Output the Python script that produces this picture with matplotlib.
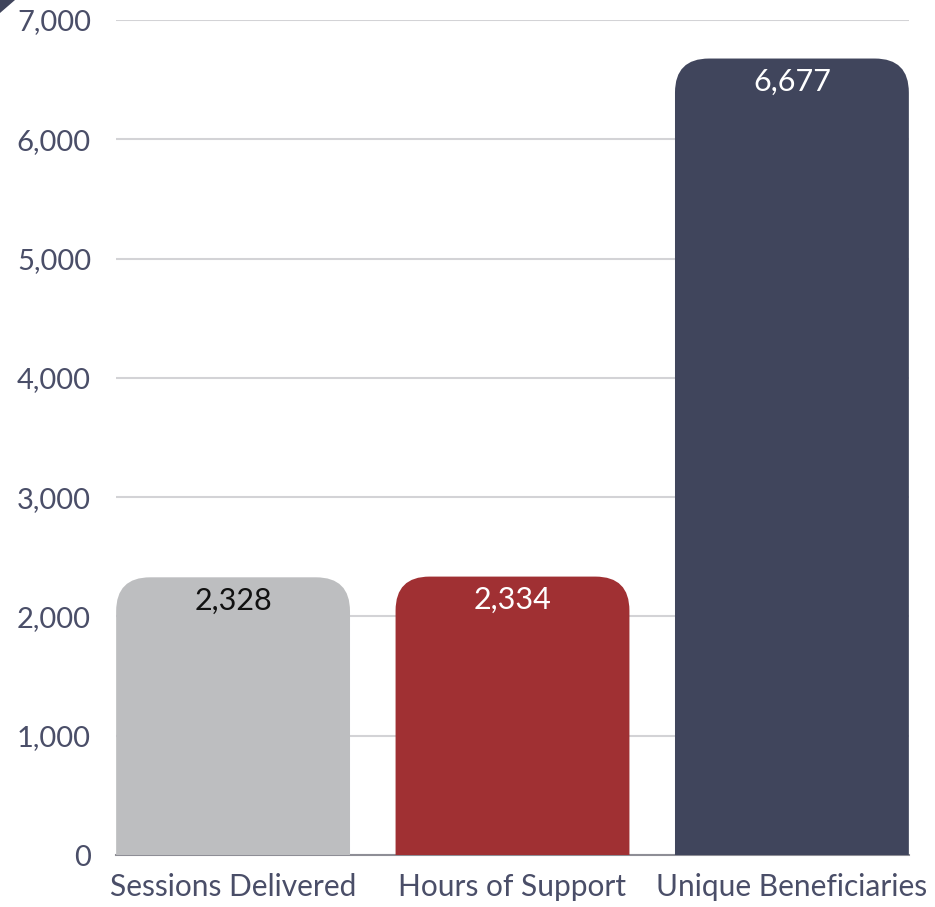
import matplotlib
matplotlib.use("Agg")
import matplotlib.pyplot as plt
from matplotlib.patches import FancyBboxPatch, Polygon
from matplotlib.ticker import FuncFormatter

plt.rcParams['font.family'] = ['Lato', 'DejaVu Sans']

categories = ['Sessions Delivered', 'Hours of Support', 'Unique Beneficiaries']
values = [2328, 2334, 6677]
bar_colors = ['#bdbec0', '#a03033', '#40455c']
label_colors = ['#111111', '#ffffff', '#ffffff']
yticks = [0, 1000, 2000, 3000, 4000, 5000, 6000, 7000]

text_color = '#4a4e68'

fig = plt.figure(figsize=(9.35, 9.07), dpi=100)
ax = fig.add_axes([116 / 935, 52 / 907, 793 / 935, 835 / 907])

width = 0.837
bars = ax.bar(range(len(values)), values, width=width, color=bar_colors)
ax.set_xlim(-0.419, len(values) - 1 + 0.419)
ax.set_ylim(0, 7000)

# rounded tops: swap each rectangle for a rounded box that dips below the baseline
px_x = (ax.get_xlim()[1] - ax.get_xlim()[0]) / 793
px_y = (ax.get_ylim()[1] - ax.get_ylim()[0]) / 835
aspect = px_y / px_x
radius = 34 * px_x
for rect, col in zip(bars, bar_colors):
    rect.set_visible(False)
    x0, w, h = rect.get_x(), rect.get_width(), rect.get_height()
    box = FancyBboxPatch((x0, -600), w, h + 600,
                         boxstyle=f"round,pad=0,rounding_size={radius}",
                         mutation_aspect=aspect, facecolor=col,
                         edgecolor='none', zorder=3)
    ax.add_patch(box)

for i, (v, c) in enumerate(zip(values, label_colors)):
    ax.text(i, v - 9 * px_y, f"{v:,}", ha='center', va='top',
            fontsize=22, color=c, zorder=4)

ax.set_yticks(yticks)
ax.yaxis.set_major_formatter(FuncFormatter(lambda v, p: f"{int(v):,}"))
ax.set_xticks(range(len(categories)))
ax.set_xticklabels(categories)
ax.tick_params(axis='y', length=0, pad=18, labelsize=21, labelcolor=text_color)
ax.tick_params(axis='x', length=0, pad=13, labelsize=21.5, labelcolor=text_color)

ax.grid(axis='y', color='#d3d3d6', linewidth=1.5, zorder=0)
ax.set_axisbelow(True)
for side in ['top', 'right', 'left']:
    ax.spines[side].set_visible(False)
ax.spines['bottom'].set_color('#8e8e96')
ax.spines['bottom'].set_linewidth(1.5)
ax.spines['bottom'].set_zorder(2)

# corner accent
fig.patches.append(Polygon([(0, 1), (15 / 935, 1), (0, 1 - 13 / 907)],
                           closed=True, transform=fig.transFigure,
                           facecolor='#40455c', edgecolor='none'))

fig.savefig('out.png', dpi=100)
